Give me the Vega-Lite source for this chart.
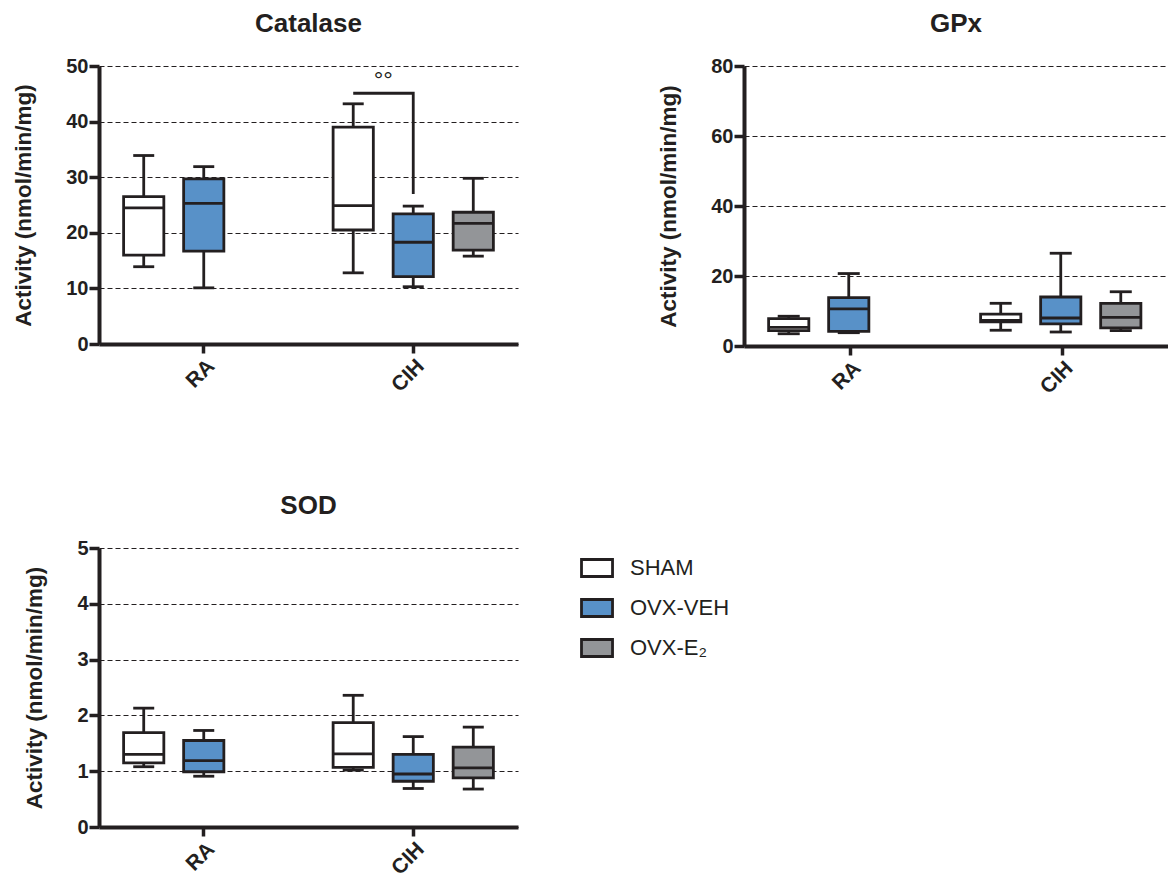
{
  "$schema": "https://vega.github.io/schema/vega-lite/v6.json",
  "padding": {"left": 12, "top": 11, "right": 0, "bottom": 0},
  "datasets": {
    "stats": [
      {"panel": "Catalase", "group": "RA", "treatment": "SHAM", "min": 13.9, "q1": 16.0, "median": 24.5, "q3": 26.5, "max": 33.9},
      {"panel": "Catalase", "group": "RA", "treatment": "OVX-VEH", "min": 10.1, "q1": 16.7, "median": 25.3, "q3": 29.7, "max": 31.9},
      {"panel": "Catalase", "group": "CIH", "treatment": "SHAM", "min": 12.8, "q1": 20.5, "median": 24.9, "q3": 39.0, "max": 43.2},
      {"panel": "Catalase", "group": "CIH", "treatment": "OVX-VEH", "min": 10.3, "q1": 12.1, "median": 18.3, "q3": 23.4, "max": 24.8},
      {"panel": "Catalase", "group": "CIH", "treatment": "OVX-E₂", "min": 15.8, "q1": 16.9, "median": 21.7, "q3": 23.7, "max": 29.8},
      {"panel": "GPx", "group": "RA", "treatment": "SHAM", "min": 3.5, "q1": 4.4, "median": 5.3, "q3": 7.8, "max": 8.5},
      {"panel": "GPx", "group": "RA", "treatment": "OVX-VEH", "min": 3.8, "q1": 4.2, "median": 10.6, "q3": 13.8, "max": 20.7},
      {"panel": "GPx", "group": "CIH", "treatment": "SHAM", "min": 4.5, "q1": 6.9, "median": 7.3, "q3": 9.1, "max": 12.2},
      {"panel": "GPx", "group": "CIH", "treatment": "OVX-VEH", "min": 4.0, "q1": 6.3, "median": 8.0, "q3": 14.0, "max": 26.5},
      {"panel": "GPx", "group": "CIH", "treatment": "OVX-E₂", "min": 4.4, "q1": 5.2, "median": 8.2, "q3": 12.2, "max": 15.5},
      {"panel": "SOD", "group": "RA", "treatment": "SHAM", "min": 1.08, "q1": 1.15, "median": 1.30, "q3": 1.69, "max": 2.13},
      {"panel": "SOD", "group": "RA", "treatment": "OVX-VEH", "min": 0.91, "q1": 0.99, "median": 1.19, "q3": 1.55, "max": 1.73},
      {"panel": "SOD", "group": "CIH", "treatment": "SHAM", "min": 1.02, "q1": 1.07, "median": 1.31, "q3": 1.87, "max": 2.36},
      {"panel": "SOD", "group": "CIH", "treatment": "OVX-VEH", "min": 0.69, "q1": 0.82, "median": 0.95, "q3": 1.30, "max": 1.62},
      {"panel": "SOD", "group": "CIH", "treatment": "OVX-E₂", "min": 0.68, "q1": 0.88, "median": 1.06, "q3": 1.43, "max": 1.79}
    ],
    "bracket": [
      {"panel": "Catalase", "group": "CIH", "treatment": "SHAM", "v": 45.1, "o": 1},
      {"panel": "Catalase", "group": "CIH", "treatment": "OVX-VEH", "v": 45.1, "o": 2},
      {"panel": "Catalase", "group": "CIH", "treatment": "OVX-VEH", "v": 27.0, "o": 3}
    ],
    "sig": [
      {"panel": "Catalase", "group": "CIH", "treatment": "SHAM", "v": 48.1, "label": "°°"}
    ]
  },
  "data": {"name": "stats"},
  "resolve": {"legend": {"fill": "independent"}},
  "spacing": 95,
  "vconcat": [
    {
      "spacing": 139,
      "hconcat": [
        {
          "title": "Catalase",
          "width": 419,
          "height": 278,
          "transform": [{"filter": "datum.panel === 'Catalase'"}],
          "encoding": {
            "x": {"field": "group", "type": "nominal", "sort": ["RA", "CIH"], "scale": {"paddingInner": 0, "paddingOuter": 0}, "axis": {"title": null}},
            "xOffset": {"field": "treatment", "type": "nominal", "scale": {"domain": ["SHAM", "OVX-VEH", "OVX-E₂"], "paddingInner": 0.33, "paddingOuter": 0.41}}
          },
          "layer": [
            {"mark": {"type": "rule", "color": "#231f20", "strokeWidth": 2.8},
             "encoding": {"y": {"field": "min", "type": "quantitative", "title": "Activity (nmol/min/mg)", "scale": {"domain": [0, 50]}, "axis": {"values": [0, 10, 20, 30, 40, 50]}}, "y2": {"field": "max"}}},
            {"mark": {"type": "tick", "color": "#231f20", "opacity": 1, "size": 21, "thickness": 2.8},
             "encoding": {"y": {"field": "min", "type": "quantitative", "title": "Activity (nmol/min/mg)"}}},
            {"mark": {"type": "tick", "color": "#231f20", "opacity": 1, "size": 21, "thickness": 2.8},
             "encoding": {"y": {"field": "max", "type": "quantitative", "title": "Activity (nmol/min/mg)"}}},
            {"mark": {"type": "bar", "stroke": "#231f20", "strokeWidth": 2.8, "opacity": 1},
             "encoding": {"y": {"field": "q1", "type": "quantitative", "title": "Activity (nmol/min/mg)"}, "y2": {"field": "q3"},
               "fill": {"field": "treatment", "type": "nominal", "scale": {"domain": ["SHAM", "OVX-VEH", "OVX-E₂"], "range": ["#ffffff", "#5891c8", "#939598"]}, "legend": null}}},
            {"mark": {"type": "tick", "color": "#231f20", "opacity": 1, "size": 40, "thickness": 2.8},
             "encoding": {"y": {"field": "median", "type": "quantitative", "title": "Activity (nmol/min/mg)"}}},
            {"data": {"name": "bracket"},
             "mark": {"type": "line", "color": "#231f20", "strokeWidth": 2.8},
             "encoding": {"y": {"field": "v", "type": "quantitative", "title": "Activity (nmol/min/mg)"}, "order": {"field": "o", "type": "quantitative"}}},
            {"data": {"name": "sig"},
             "mark": {"type": "text", "color": "#231f20", "fontSize": 24, "dx": 30, "dy": 4, "baseline": "middle"},
             "encoding": {"y": {"field": "v", "type": "quantitative", "title": "Activity (nmol/min/mg)"}, "text": {"field": "label"}}}
          ]
        },
        {
          "title": "GPx",
          "width": 424,
          "height": 280,
          "transform": [{"filter": "datum.panel === 'GPx'"}],
          "encoding": {
            "x": {"field": "group", "type": "nominal", "sort": ["RA", "CIH"], "scale": {"paddingInner": 0, "paddingOuter": 0}, "axis": {"title": null}},
            "xOffset": {"field": "treatment", "type": "nominal", "scale": {"domain": ["SHAM", "OVX-VEH", "OVX-E₂"], "paddingInner": 0.32, "paddingOuter": 0.41}}
          },
          "layer": [
            {"mark": {"type": "rule", "color": "#231f20", "strokeWidth": 2.8},
             "encoding": {"y": {"field": "min", "type": "quantitative", "title": "Activity (nmol/min/mg)", "scale": {"domain": [0, 80]}, "axis": {"values": [0, 20, 40, 60, 80]}}, "y2": {"field": "max"}}},
            {"mark": {"type": "tick", "color": "#231f20", "opacity": 1, "size": 22, "thickness": 2.8},
             "encoding": {"y": {"field": "min", "type": "quantitative", "title": "Activity (nmol/min/mg)"}}},
            {"mark": {"type": "tick", "color": "#231f20", "opacity": 1, "size": 22, "thickness": 2.8},
             "encoding": {"y": {"field": "max", "type": "quantitative", "title": "Activity (nmol/min/mg)"}}},
            {"mark": {"type": "bar", "stroke": "#231f20", "strokeWidth": 2.8, "opacity": 1},
             "encoding": {"y": {"field": "q1", "type": "quantitative", "title": "Activity (nmol/min/mg)"}, "y2": {"field": "q3"},
               "fill": {"field": "treatment", "type": "nominal", "scale": {"domain": ["SHAM", "OVX-VEH", "OVX-E₂"], "range": ["#ffffff", "#5891c8", "#939598"]}, "legend": null}}},
            {"mark": {"type": "tick", "color": "#231f20", "opacity": 1, "size": 41, "thickness": 2.8},
             "encoding": {"y": {"field": "median", "type": "quantitative", "title": "Activity (nmol/min/mg)"}}}
          ]
        }
      ]
    },
    {
      "title": "SOD",
      "width": 419,
      "height": 279,
      "transform": [{"filter": "datum.panel === 'SOD'"}],
      "encoding": {
        "x": {"field": "group", "type": "nominal", "sort": ["RA", "CIH"], "scale": {"paddingInner": 0, "paddingOuter": 0}, "axis": {"title": null}},
        "xOffset": {"field": "treatment", "type": "nominal", "scale": {"domain": ["SHAM", "OVX-VEH", "OVX-E₂"], "paddingInner": 0.33, "paddingOuter": 0.41}}
      },
      "layer": [
        {"mark": {"type": "rule", "color": "#231f20", "strokeWidth": 2.8},
         "encoding": {"y": {"field": "min", "type": "quantitative", "title": "Activity (nmol/min/mg)", "scale": {"domain": [0, 5]}, "axis": {"values": [0, 1, 2, 3, 4, 5]}}, "y2": {"field": "max"}}},
        {"mark": {"type": "tick", "color": "#231f20", "opacity": 1, "size": 21, "thickness": 2.8},
         "encoding": {"y": {"field": "min", "type": "quantitative", "title": "Activity (nmol/min/mg)"}}},
        {"mark": {"type": "tick", "color": "#231f20", "opacity": 1, "size": 21, "thickness": 2.8},
         "encoding": {"y": {"field": "max", "type": "quantitative", "title": "Activity (nmol/min/mg)"}}},
        {"mark": {"type": "bar", "stroke": "#231f20", "strokeWidth": 2.8, "opacity": 1},
         "encoding": {"y": {"field": "q1", "type": "quantitative", "title": "Activity (nmol/min/mg)"}, "y2": {"field": "q3"},
           "fill": {"field": "treatment", "type": "nominal", "scale": {"domain": ["SHAM", "OVX-VEH", "OVX-E₂"], "range": ["#ffffff", "#5891c8", "#939598"]},
             "legend": {"title": null, "orient": "right", "offset": 52, "padding": 9, "symbolType": "M-1,-1H2.65V1H-1Z", "symbolSize": 289, "symbolStrokeColor": "#231f20", "symbolStrokeWidth": 2.8, "symbolOpacity": 1, "labelFont": "Liberation Sans", "labelFontSize": 22, "labelFontWeight": "normal", "labelColor": "#231f20", "labelOffset": 29, "rowPadding": 10}}}},
        {"mark": {"type": "tick", "color": "#231f20", "opacity": 1, "size": 40, "thickness": 2.8},
         "encoding": {"y": {"field": "median", "type": "quantitative", "title": "Activity (nmol/min/mg)"}}}
      ]
    }
  ],
  "config": {
    "font": "Liberation Sans",
    "view": {"stroke": null},
    "axis": {"domainColor": "#231f20", "domainWidth": 4, "tickColor": "#231f20", "tickWidth": 3.5, "labelColor": "#231f20", "labelFont": "Liberation Sans", "labelFontWeight": "bold", "labelFontSize": 20, "titleFont": "Liberation Sans", "titleFontWeight": "bold", "titleFontSize": 22.5, "titleColor": "#231f20"},
    "axisY": {"tickSize": 10, "labelPadding": 1, "grid": true, "gridDash": [5, 3], "gridColor": "#231f20", "gridWidth": 1.2, "titlePadding": 30},
    "axisX": {"tickSize": 9, "labelAngle": -45, "labelPadding": 2, "labelFontSize": 21, "grid": false},
    "title": {"font": "Liberation Sans", "fontSize": 26, "fontWeight": "bold", "color": "#231f20", "offset": 19}
  }
}
